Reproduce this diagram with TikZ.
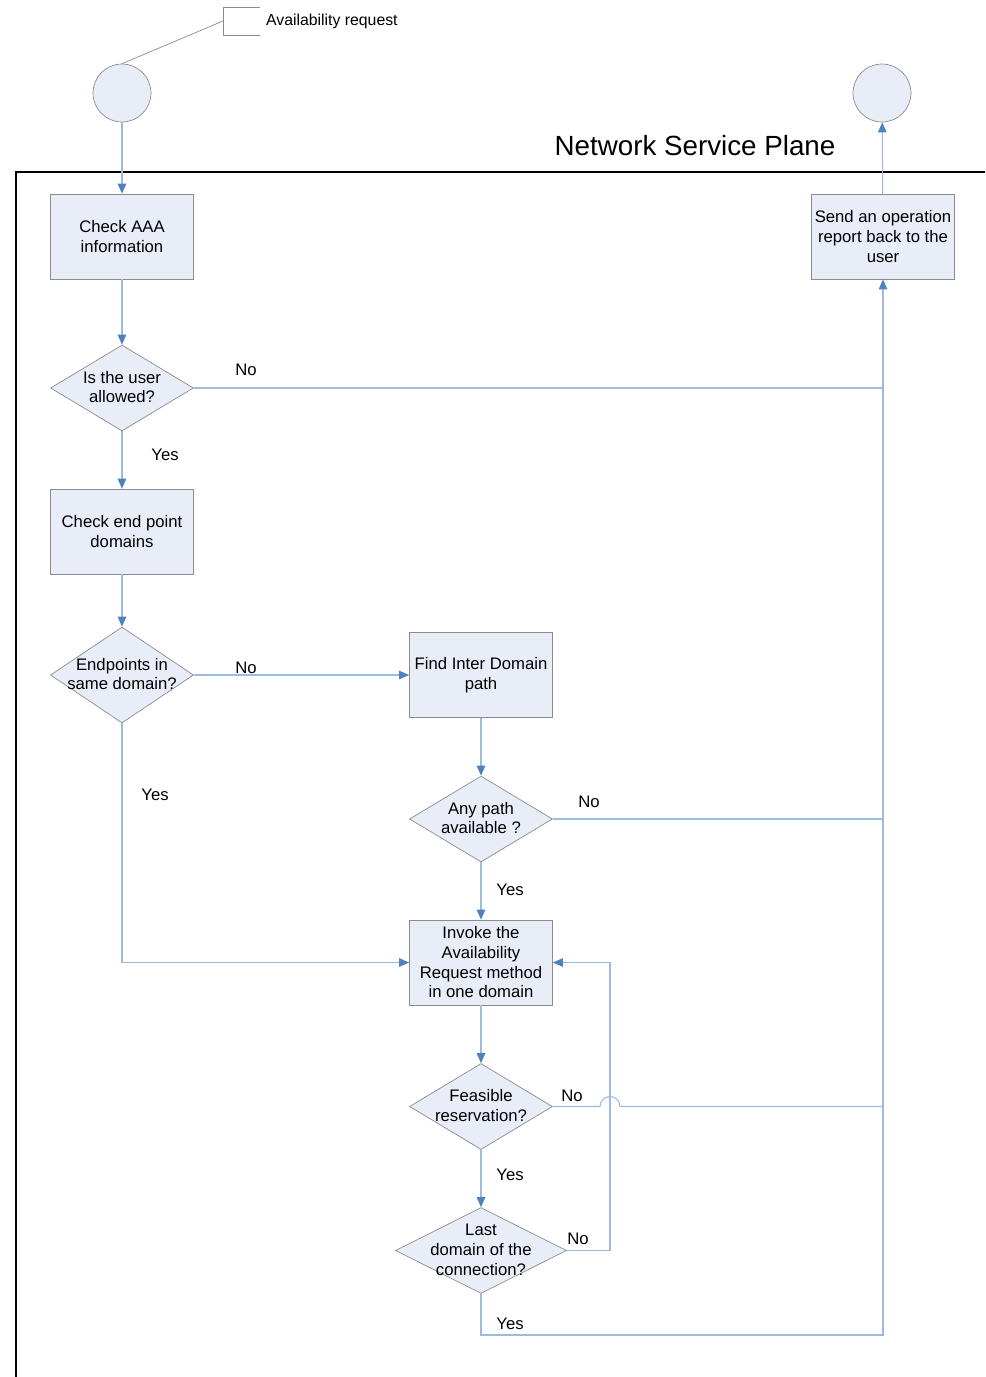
\documentclass[tikz,border=0pt]{standalone}
\usepackage{fontspec}
\setmainfont{Liberation Sans}
\usetikzlibrary{shapes.geometric,arrows.meta}
\definecolor{boxfill}{HTML}{E9EDF7}
\definecolor{boxline}{HTML}{8C8C8C}
\definecolor{flowline}{HTML}{9DBBE0}
\definecolor{tipblue}{HTML}{4F81BD}
\newcommand{\dtext}[1]{\smash{\raisebox{-2.8pt}{\makebox[0pt]{\begin{tabular}{@{}c@{}}#1\end{tabular}}}}}
\begin{document}
\begin{tikzpicture}[x=0.02cm, y=-0.02cm, >={Triangle[length=2mm,width=1.7mm,color=tipblue]},
  every node/.style={font=\fontsize{9.5}{11.2}\selectfont},
  proc/.style={draw=boxline, fill=boxfill, rectangle, minimum width=2.86cm, minimum height=1.7cm, align=center, inner sep=1pt},
  decision/.style={draw=boxline, fill=boxfill, diamond, minimum width=2.86cm, minimum height=1.72cm, inner sep=0pt},
  term/.style={draw=boxline, fill=boxfill, circle, minimum size=1.16cm, inner sep=0pt},
  flow/.style={draw=flowline, line width=0.6pt},
  lbl/.style={inner sep=1pt}]

  \useasboundingbox (0,0) rectangle (985,1377);

  % start and end
  \node[term] (start) at (122,93) {};
  \node[term] (finish) at (882,93) {};

  % note on the start
  \coordinate (note) at (223,21);
  \draw[boxline] (260,7) -- (223,7) -- (223,35) -- (260,35);
  \draw[boxline] (note) -- (start.north);
  \node[anchor=west, inner sep=1pt, font=\fontsize{9}{11}\selectfont] (notetext) at (264,21.5) {Availability request};

  % plane
  \node (plane) at (695,146) {\fontsize{15.8}{18}\selectfont Network Service Plane};
  \draw[line width=1.5pt] (985,172) -- (16,172) -- (16,1377);

  % steps
  \node[proc] (aaa) at (122,236.5) {Check AAA\\information};
  \node[decision] (allowed) at (122,388) {\dtext{Is the user\\allowed?}};
  \node[proc] (endpts) at (122,531.5) {Check end point\\domains};
  \node[decision, minimum height=1.92cm] (same) at (122,675) {\dtext{Endpoints in\\same domain?}};
  \node[proc] (inter) at (481,675) {Find Inter Domain\\path};
  \node[decision] (anypath) at (481,819) {\dtext{Any path\\available ?}};
  \node[proc] (invoke) at (481,962.5) {Invoke the\\Availability\\Request method\\in one domain};
  \node[decision] (feasible) at (481,1106.5) {\dtext{Feasible\\reservation?}};
  \node[decision, minimum width=3.42cm] (lastdom) at (481,1250.5) {\dtext{Last\\domain of the\\connection?}};
  \node[proc] (report) at (883,236.5) {Send an operation\\report back to the\\user};

  \coordinate (loop) at (610,1250.5);
  \coordinate (trunk) at (883,1335);

  % connectors
  \draw[flow,->] (start) -- (aaa);
  \draw[flow,->] (aaa) -- (allowed);
  \draw[flow,->] (allowed) -- (endpts) node[lbl] at (165,455) {Yes};
  \draw[flow,->] (endpts) -- (same);
  \draw[flow,->] (same) -- (inter) node[lbl] at (246,668) {No};
  \draw[flow,->] (same) |- (invoke) node[lbl] at (155,795) {Yes};
  \draw[flow,->] (inter) -- (anypath);
  \draw[flow,->] (anypath) -- (invoke) node[lbl] at (510,890) {Yes};
  \draw[flow,->] (invoke) -- (feasible);
  \draw[flow,->] (feasible) -- (lastdom) node[lbl] at (510,1175) {Yes};
  \draw[flow,->] (lastdom.east) -- (loop) |- (invoke.east) node[lbl] at (578,1239) {No};
  \draw[flow,->] (lastdom.south) |- (trunk) -- (report.south) node[lbl] at (510,1324) {Yes};
  \draw[flow] (allowed.east) -- (allowed.east -| trunk) node[lbl] at (246,370) {No};
  \draw[flow] (anypath.east) -- (anypath.east -| trunk) node[lbl] at (589,802) {No};
  \draw[flow] (feasible.east) -- (600,1106.5) arc (180:360:10) -- (feasible.east -| trunk) node[lbl] at (572,1096) {No};
  \draw[flow,->] (report) -- (finish);

\end{tikzpicture}
\end{document}
